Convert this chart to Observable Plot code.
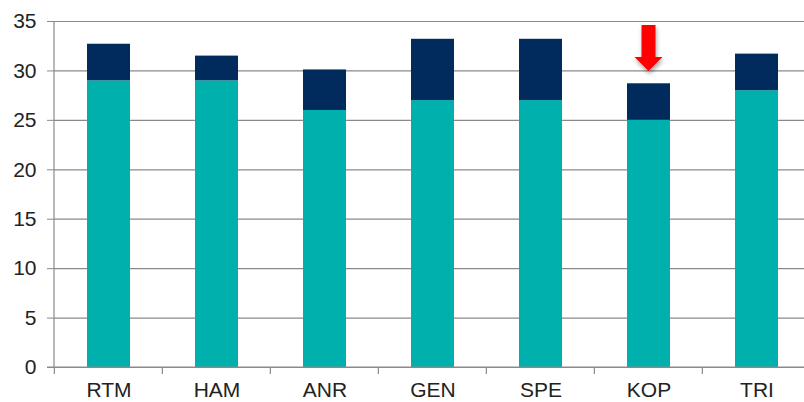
<!DOCTYPE html>
<html>
<head>
<meta charset="utf-8">
<script src="https://cdn.jsdelivr.net/npm/d3@7"></script>
<script src="https://cdn.jsdelivr.net/npm/@observablehq/plot@0.6"></script>
<style>
  html, body { margin: 0; padding: 0; background: #fff; }
  #chart { width: 804px; height: 402px; overflow: hidden; }
</style>
</head>
<body>
<div id="chart"></div>
<script>
const categories = ["RTM", "HAM", "ANR", "GEN", "SPE", "KOP", "TRI"];
const baseValues = [29, 29, 26, 27, 27, 25, 28];
const extraValues = [3.7, 2.5, 4.1, 6.2, 6.2, 3.7, 3.7];
const seriesNames = ["Base", "Extra"];
const seriesColors = ["#00B0AD", "#002B5C"];
const yTicks = [0, 5, 10, 15, 20, 25, 30, 35];
const arrowCategory = "KOP";
const arrowTop = 34.6;
const arrowTip = 29.95;

const rows = [];
categories.forEach((c, i) => {
  rows.push({cat: c, series: seriesNames[0], value: baseValues[i]});
  rows.push({cat: c, series: seriesNames[1], value: extraValues[i]});
});

const gray = "#8a8a8a";
const font = "Liberation Sans, Arial, sans-serif";

const plot = Plot.plot({
  width: 804,
  height: 402,
  marginLeft: 54,
  marginRight: -8,
  marginTop: 21,
  marginBottom: 35,
  style: {fontFamily: font, fontSize: "21px", color: "#222", background: "#fff", overflow: "hidden"},
  x: {domain: categories, paddingInner: 0.6, paddingOuter: 0.3, label: null, axis: null},
  y: {domain: [0, 35], label: null, axis: null},
  color: {domain: seriesNames, range: seriesColors},
  marks: [
    Plot.ruleY(yTicks, {stroke: gray, strokeWidth: 1.2}),
    Plot.barY(rows, {x: "cat", y: "value", fill: "series", order: seriesNames}),
    Plot.axisY({ticks: yTicks, tickSize: 7, tickPadding: 11, stroke: gray, fill: "#222", fontSize: 21, label: null}),
    Plot.axisX({tickSize: 0, tickPadding: 15, fill: "#222", fontSize: 21, label: null})
  ]
});
document.getElementById("chart").appendChild(plot);

// Axis lines, band-boundary ticks and arrow annotation drawn through Plot's scales
const xs = plot.scale("x");
const ys = plot.scale("y");
const svg = d3.select(plot);
const [x0, x1] = xs.range;
const y0 = ys.apply(0);
const yTop = ys.apply(35);
const step = (x1 - x0) / categories.length;
const g = svg.append("g");
g.append("line").attr("x1", x0).attr("x2", x0).attr("y1", yTop).attr("y2", y0)
  .attr("stroke", gray).attr("stroke-width", 1.2);
g.append("line").attr("x1", x0 - 7).attr("x2", x1).attr("y1", y0).attr("y2", y0)
  .attr("stroke", gray).attr("stroke-width", 1.2);
categories.forEach((c, i) => {
  const bx = xs.apply(c) + xs.bandwidth / 2 - step / 2;
  g.append("line").attr("x1", bx).attr("x2", bx).attr("y1", y0).attr("y2", y0 + 7)
    .attr("stroke", gray).attr("stroke-width", 1.2);
});

const defs = svg.append("defs");
const f = defs.append("filter").attr("id", "shadow").attr("x", "-50%").attr("y", "-50%").attr("width", "200%").attr("height", "200%");
f.append("feDropShadow").attr("dx", 1).attr("dy", 3).attr("stdDeviation", 2).attr("flood-color", "#000").attr("flood-opacity", 0.35);

const cx = xs.apply(arrowCategory) + xs.bandwidth / 2;
const ty = ys.apply(arrowTop);
const tip = ys.apply(arrowTip);
const headH = 14, headW = 14, shaftW = 7;
const pts = [
  [cx - shaftW, ty], [cx + shaftW, ty], [cx + shaftW, tip - headH],
  [cx + headW, tip - headH], [cx, tip], [cx - headW, tip - headH], [cx - shaftW, tip - headH]
];
svg.append("polygon").attr("points", pts.map(p => p.join(",")).join(" "))
  .attr("fill", "#FF0000").attr("filter", "url(#shadow)");
</script>
</body>
</html>
